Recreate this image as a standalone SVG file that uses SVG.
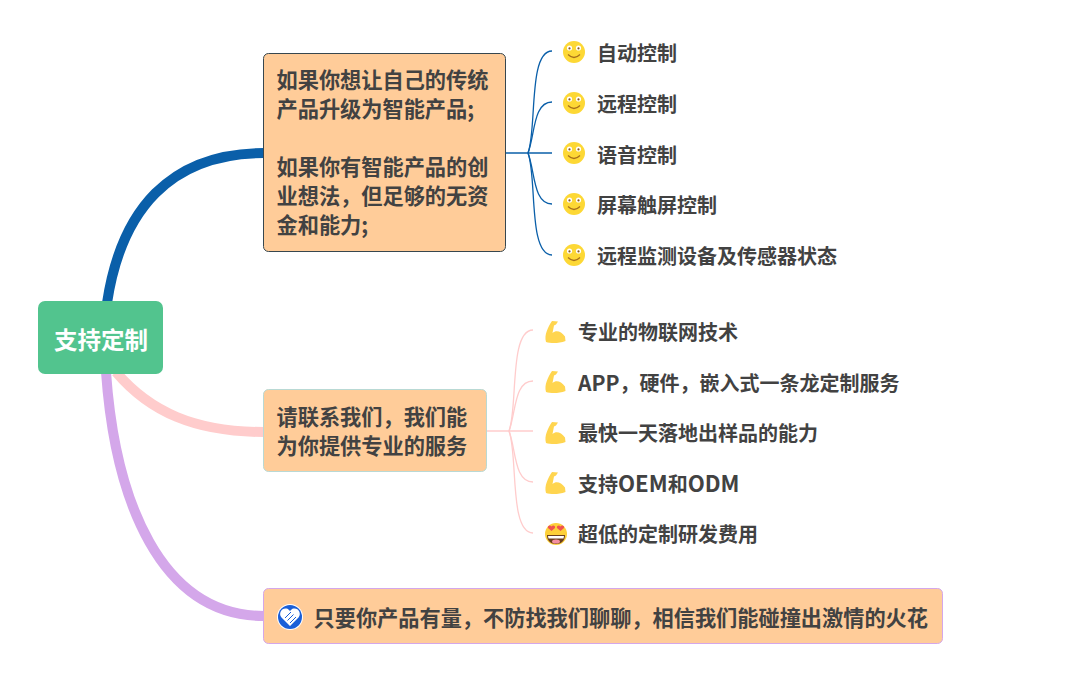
<svg xmlns="http://www.w3.org/2000/svg" width="1085" height="681" viewBox="0 0 1085 681">
<style>
text{font-family:"Noto Sans CJK SC","Noto Sans",sans-serif;font-weight:700;fill:#424242}
.t{font-size:21.2px}
.s{font-size:20px}
.r{font-size:23.5px;fill:#fff}
.box{fill:#ffcc99;stroke-width:1}
.c{fill:none}
.blue{stroke:#0a5fa9;stroke-width:1.3}
.pink{stroke:#ffcccc;stroke-width:1.3}
.l1{font-size:21px}
.l2{font-size:22.2px}
</style>
<defs>
<g id="smile">
<circle r="11" fill="#fdd835"/>
<circle cx="-4.5" cy="-4" r="2.6" fill="#fff"/><circle cx="4.5" cy="-4" r="2.6" fill="#fff"/>
<circle cx="-4.5" cy="-3.6" r="1.1" fill="#8a5a20"/><circle cx="4.5" cy="-3.6" r="1.1" fill="#8a5a20"/>
<path d="M-6 2.5Q0 8.5 6 2.5" fill="none" stroke="#a8701c" stroke-width="1.2"/>
</g>
<path id="arm" d="M-9 10C-11 3-7-5-3-11L3-10.500L1-7.500L-1-6.500L-2.500 1C1-2 6-1 10 4.500L10.500 9C4 11.500-4 11.500-9 10Z" fill="#ffd54f"/>
</defs>
<g id="connectors">
<path class="c" d="M107 303C121 210 170 153 264 153" stroke="#0a5fa9" stroke-width="10"/>
<path class="c" d="M116 372C150 412 195 432 264 432" stroke="#ffcccc" stroke-width="10"/>
<path class="c" d="M106 372C115 500 160 616 264 616" stroke="#d4a7ea" stroke-width="10"/>
<g class="blue c">
<path d="M506 153H552"/>
<path d="M528 153C537 130 528 51 552 51"/>
<path d="M528 153C535 135 533 102 552 102"/>
<path d="M528 153C535 171 533 204 552 204"/>
<path d="M528 153C537 176 528 255 552 255"/>
</g>
<g class="pink c">
<path d="M487 431H533"/>
<path d="M509 431C518 408 509 330 533 330"/>
<path d="M509 431C516 413 514 381 533 381"/>
<path d="M509 431C516 449 514 482 533 482"/>
<path d="M509 431C518 454 509 533 533 533"/>
</g>
</g>
<g id="root">
<rect x="38" y="301" width="125" height="73" rx="7" fill="#52c48e"/>
<text class="r" x="54" y="349">支持定制</text>
</g>
<g id="topic1">
<rect class="box" x="263.500" y="53.500" width="242" height="198" rx="5" stroke="#37474f"/>
<text class="t" x="276.500" y="88">如果你想让自己的传统</text>
<text class="t" x="276.500" y="117">产品升级为智能产品;</text>
<text class="t" x="276.500" y="175">如果你有智能产品的创</text>
<text class="t" x="276.500" y="204">业想法，但足够的无资</text>
<text class="t" x="276.500" y="233">金和能力;</text>
</g>
<g id="topic2">
<rect class="box" x="263.500" y="389.500" width="223" height="82" rx="5" stroke="#b9d9d4"/>
<text class="t" x="276.500" y="425">请联系我们，我们能</text>
<text class="t" x="276.500" y="454">为你提供专业的服务</text>
</g>
<g id="topic3">
<rect class="box" x="263.500" y="588.500" width="679" height="55" rx="5" stroke="#d4a7ea"/>
<circle cx="290" cy="617" r="13" fill="#fff"/>
<circle cx="290" cy="617" r="12" fill="#1a5fd8"/>
<path d="M290 626L281.500 617.500C278 613 282 607.500 286.500 608.500C288 608.800 289 609.800 290 611C291 609.800 292 608.800 293.500 608.500C298 607.500 302 613 298.500 617.500Z" fill="#fff"/>
<path d="M285 618L291 612M287.500 620.500L293.500 614.500M290 623L296 617" stroke="#1a5fd8" stroke-width="1" fill="none"/>
<text class="t" x="313.500" y="626">只要你产品有量，不防找我们聊聊，相信我们能碰撞出激情的火花</text>
</g>
<g id="sub1-1"><use href="#smile" x="574" y="52"/><text class="s" x="597" y="61">自动控制</text></g>
<g id="sub1-2"><use href="#smile" x="574" y="103"/><text class="s" x="597" y="112">远程控制</text></g>
<g id="sub1-3"><use href="#smile" x="574" y="153"/><text class="s" x="597" y="163">语音控制</text></g>
<g id="sub1-4"><use href="#smile" x="574" y="204"/><text class="s" x="597" y="213">屏幕触屏控制</text></g>
<g id="sub1-5"><use href="#smile" x="574" y="255"/><text class="s" x="597" y="264">远程监测设备及传感器状态</text></g>
<g id="sub2-1"><use href="#arm" x="555" y="332"/><text class="s" x="578" y="340">专业的物联网技术</text></g>
<g id="sub2-2"><use href="#arm" x="555" y="382"/><text class="s" x="578" y="391"><tspan class="l1">APP</tspan>，硬件，嵌入式一条龙定制服务</text></g>
<g id="sub2-3"><use href="#arm" x="555" y="433"/><text class="s" x="578" y="441">最快一天落地出样品的能力</text></g>
<g id="sub2-4"><use href="#arm" x="555" y="483"/><text class="s" x="578" y="492">支持<tspan class="l2">OEM</tspan>和<tspan class="l2">ODM</tspan></text></g>
<g id="sub2-5">
<circle cx="556" cy="534" r="11" fill="#fdd039"/>
<path d="M547 535H565C565 541 561 544 556 544C551 544 547 541 547 535Z" fill="#6b3f1d"/>
<path d="M548 536H564L563.500 538.500H548.500Z" fill="#fff"/>
<ellipse cx="556" cy="541.500" rx="4" ry="2" fill="#f48fa0"/>
<path d="M551.500 531L548 528C547 525.500 550.500 524.500 551.500 526.500C552.500 524.500 556 525.500 555 528Z" fill="#ef5350"/>
<path d="M560.500 531L557 528C556 525.500 559.500 524.500 560.500 526.500C561.500 524.500 565 525.500 564 528Z" fill="#ef5350"/>
<text class="s" x="578" y="542">超低的定制研发费用</text>
</g>
</svg>
